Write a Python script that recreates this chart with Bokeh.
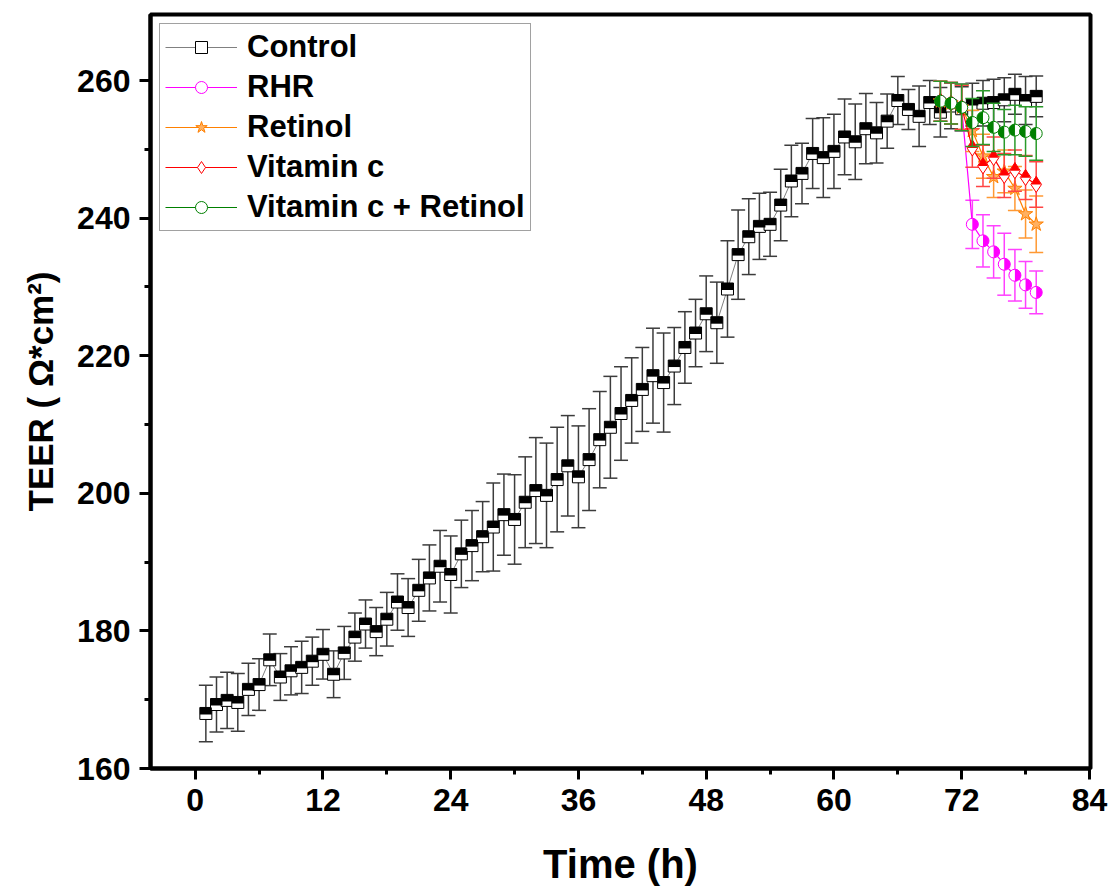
import math
from bokeh.plotting import figure
from bokeh.models import ColumnDataSource, Range1d, FixedTicker, Legend, LegendItem
from bokeh.embed import file_html
from bokeh.resources import INLINE

# ---------------- data ----------------
hours = list(range(1, 80))
control = [168.0, 169.3, 169.9, 169.6, 171.5, 172.2, 175.8, 173.3, 174.2, 174.7,
           175.6, 176.6, 173.7, 176.8, 179.1, 181.0, 179.9, 181.7, 184.2, 183.4,
           185.9, 187.7, 189.4, 188.2, 191.2, 192.4, 193.7, 195.1, 196.9, 196.2,
           198.7, 200.4, 199.7, 202.0, 204.0, 202.4, 204.9, 207.8, 209.6, 211.6,
           213.5, 215.1, 217.1, 216.1, 218.5, 221.2, 223.3, 226.1, 224.8, 229.7,
           234.7, 237.3, 238.8, 239.1, 241.9, 245.4, 246.5, 249.4, 248.8, 249.7,
           251.8, 251.1, 253.0, 252.4, 254.1, 257.1, 255.8, 254.8, 256.8, 255.4,
           256.3, 255.9, 256.5, 256.7, 256.8, 257.2, 258.0, 257.1, 257.7]
control_err = [4.1, 4.0, 4.1, 4.2, 3.8, 3.75, 3.75, 3.4, 3.5, 3.8,
               3.5, 3.6, 3.4, 3.85, 3.5, 3.5, 3.5, 3.9, 4.1, 4.2,
               4.5, 4.8, 5.2, 5.6, 4.9, 5.1, 5.1, 6.4, 5.9, 6.5,
               6.6, 7.7, 7.6, 7.6, 7.3, 7.4, 7.4, 7.0, 7.4, 6.8,
               6.2, 6.1, 6.9, 7.2, 5.6, 5.2, 4.9, 5.5, 5.9, 7.0,
               6.5, 5.5, 4.8, 4.65, 5.2, 5.2, 4.4, 5.1, 5.8, 5.4,
               5.5, 5.5, 5.1, 4.4, 3.95, 3.5, 2.9, 4.4, 3.2, 3.6,
               3.3, 3.2, 3.1, 3.3, 3.4, 3.2, 2.9, 3.5, 2.95]

treat_hours = list(range(70, 80))
rhr = [257.0, 256.7, 256.1, 239.1, 236.7, 235.1, 233.3, 231.7, 230.3, 229.2]
rhr_err = [2.9, 3.0, 3.4, 3.5, 3.8, 3.8, 4.5, 3.75, 3.4, 3.1]
retinol = [257.0, 256.7, 256.1, 252.7, 249.0, 246.0, 246.8, 244.3, 240.6, 239.1]
retinol_err = [2.9, 3.0, 3.2, 3.0, 3.2, 3.0, 3.1, 3.2, 3.5, 4.1]
vitc = [257.0, 256.7, 256.1, 250.2, 247.6, 248.8, 246.2, 246.9, 245.9, 244.9]
vitc_err = [2.9, 3.0, 3.2, 2.8, 3.0, 3.0, 3.2, 3.0, 3.2, 3.3]
combo = [257.0, 256.7, 256.1, 253.9, 254.6, 253.2, 252.5, 252.8, 252.6, 252.3]
combo_err = [2.9, 3.0, 3.4, 3.5, 3.9, 3.5, 3.3, 3.6, 3.6, 3.9]

series_names = ["Control", "RHR", "Retinol", "Vitamin c", "Vitamin c + Retinol"]
x_ticks = [0, 12, 24, 36, 48, 60, 72, 84]
x_minor = [6, 18, 30, 42, 54, 66, 78]
y_ticks = [160, 180, 200, 220, 240, 260]
y_minor = [170, 190, 210, 230, 250]

# ---------------- figure ----------------
W, H = 1112, 891
MB_L, MB_R, MB_T, MB_B = 150, 22, 14, 123
Y0, Y1 = 160, 269.6
X0, X1 = -4.2, 84.1
ppu = (H - MB_T - MB_B) / (Y1 - Y0)   # pixels per y unit

p = figure(width=W, height=H, output_backend="svg", toolbar_location=None,
           x_range=Range1d(X0, X1), y_range=Range1d(Y0, Y1),
           min_border_left=MB_L, min_border_right=MB_R,
           min_border_top=MB_T, min_border_bottom=MB_B)
p.background_fill_color = "white"
p.border_fill_color = "white"
p.xgrid.visible = False
p.ygrid.visible = False
p.outline_line_color = "black"
p.outline_line_width = 4

FONT = "Liberation Sans"
for ax in (p.xaxis[0], p.yaxis[0]):
    ax.axis_line_width = 4
    ax.axis_line_color = "black"
    ax.major_tick_out = 11
    ax.major_tick_in = 0
    ax.minor_tick_out = 6
    ax.minor_tick_in = 0
    ax.major_tick_line_width = 3
    ax.minor_tick_line_width = 3
    ax.major_label_text_font = FONT
    ax.major_label_text_font_style = "bold"
    ax.major_label_text_font_size = "32px"
    ax.major_label_text_color = "black"
    ax.axis_label_text_font = FONT
    ax.axis_label_text_font_style = "bold"
    ax.axis_label_text_color = "black"
    ax.major_label_standoff = 9

p.xaxis.ticker = FixedTicker(ticks=x_ticks, minor_ticks=x_minor)
p.yaxis.ticker = FixedTicker(ticks=y_ticks, minor_ticks=y_minor)
p.xaxis.axis_label = "Time (h)"
p.xaxis.axis_label_text_font_size = "40px"
p.xaxis.axis_label_standoff = 28
p.yaxis.axis_label = "TEER ( Ω*cm²)"
p.yaxis.axis_label_text_font_size = "35px"
p.yaxis.axis_label_standoff = 14


def add_errorbars(xs, ys, errs, color, width=1.5, cap=14):
    lo = [y - e for y, e in zip(ys, errs)]
    hi = [y + e for y, e in zip(ys, errs)]
    src = ColumnDataSource(dict(x=xs, lo=lo, hi=hi))
    p.segment(x0="x", y0="lo", x1="x", y1="hi", source=src,
              line_color=color, line_width=width)
    p.scatter(x="x", y="lo", source=src, marker="dash", size=cap,
              line_color=color, line_width=width)
    p.scatter(x="x", y="hi", source=src, marker="dash", size=cap,
              line_color=color, line_width=width)


items = []

# Control
add_errorbars(hours, control, control_err, "#3c3c3c")
l0 = p.line(hours, control, line_color="#808080", line_width=1)
m0 = p.scatter(hours, control, marker="square", size=12, fill_color="white",
               line_color="black", line_width=1)
p.rect(x=hours, y=[v + 2.5 / ppu for v in control], width=12, height=7,
       width_units="screen", height_units="screen", fill_color="black",
       line_color=None)
items.append(LegendItem(label=series_names[0], renderers=[l0, m0]))

# RHR
add_errorbars(treat_hours, rhr, rhr_err, "#ff40ff")
l1 = p.line(treat_hours, rhr, line_color="#ff00ff", line_width=1.2)
m1 = p.scatter(treat_hours, rhr, marker="circle", size=12, fill_color="white",
               line_color="#ff00ff", line_width=1)
p.wedge(x=treat_hours, y=rhr, radius=6, radius_units="screen",
        start_angle=-math.pi / 2, end_angle=math.pi / 2,
        fill_color="#ff00ff", line_color=None)
items.append(LegendItem(label=series_names[1], renderers=[l1, m1]))

# Retinol
add_errorbars(treat_hours, retinol, retinol_err, "#ff9933")
l2 = p.line(treat_hours, retinol, line_color="#ff8000", line_width=1.2)
m2 = p.scatter(treat_hours, retinol, marker="star", size=15, fill_color="#ffb060",
               line_color="#ff8000", line_width=1)
items.append(LegendItem(label=series_names[2], renderers=[l2, m2]))

# Vitamin c
add_errorbars(treat_hours, vitc, vitc_err, "#ff4444")
l3 = p.line(treat_hours, vitc, line_color="#ff0000", line_width=1.2)
m3 = p.scatter(treat_hours, vitc, marker="diamond", size=16, fill_color="white",
               line_color="#ff0000", line_width=1)
p.scatter(x=treat_hours, y=[v + 2.8 / ppu for v in vitc], marker="triangle",
          size=10, fill_color="#ff0000", line_color=None)
items.append(LegendItem(label=series_names[3], renderers=[l3, m3]))

# Vitamin c + Retinol
add_errorbars(treat_hours, combo, combo_err, "#2a9a2a")
l4 = p.line(treat_hours, combo, line_color="#008000", line_width=1.2)
m4 = p.scatter(treat_hours, combo, marker="circle", size=12, fill_color="white",
               line_color="#008000", line_width=1)
p.wedge(x=treat_hours, y=combo, radius=6, radius_units="screen",
        start_angle=math.pi / 2, end_angle=3 * math.pi / 2,
        fill_color="#008000", line_color=None)
items.append(LegendItem(label=series_names[4], renderers=[l4, m4]))

legend = Legend(items=items, location="top_left")
legend.margin = 9
legend.padding = 5
legend.spacing = 4
legend.glyph_width = 72
legend.glyph_height = 30
legend.label_height = 30
legend.label_standoff = 10
legend.label_text_font = FONT
legend.label_text_font_style = "bold"
legend.label_text_font_size = "31px"
legend.label_text_color = "black"
legend.border_line_color = "#444444"
legend.border_line_width = 1.5
legend.background_fill_color = "white"
legend.background_fill_alpha = 1.0
p.add_layout(legend)

open("out.html", "w").write(file_html(p, INLINE))
